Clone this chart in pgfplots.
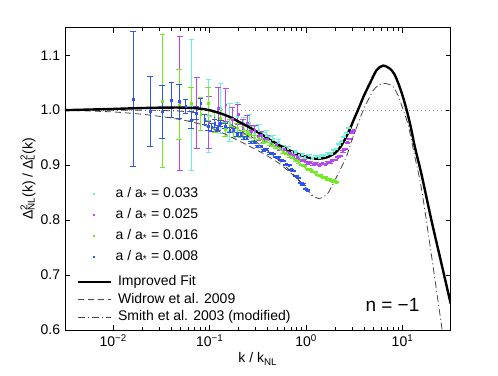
\documentclass[border=0pt]{standalone}
\usepackage{pgfplots}
\usepackage{pgfplotstable}
\pgfplotsset{compat=1.18}
\usepackage{fontspec}
\setmainfont{Liberation Sans}

\definecolor{cBlue}{RGB}{45,85,245}
\definecolor{cGreen}{RGB}{115,235,35}
\definecolor{cPurple}{RGB}{185,70,245}
\definecolor{cCyan}{RGB}{110,240,215}
\definecolor{cFit}{RGB}{70,70,70}

% simulation points: k/k_NL, ratio, error
\pgfplotstableread{
k y e
0.0646 1.010 0.119
0.0969 0.990 0.066
0.1292 1.003 0.045
0.1615 0.978 0.034
0.1938 0.989 0.025
0.2261 0.966 0.020
0.2584 0.976 0.016
0.2907 0.957 0.013
0.3230 0.964 0.011
0.3553 0.950 0.010
0.3876 0.955 0.009
0.4199 0.944 0.008
0.4522 0.947 0.007
0.4845 0.938 0.006
0.5168 0.941 0.006
0.5814 0.931 0.005
0.6460 0.930 0.004
0.7106 0.923 0.004
0.7752 0.924 0.003
0.8398 0.918 0.003
0.9044 0.919 0.003
0.9690 0.915 0.003
1.0659 0.917 0.002
1.1628 0.913 0.002
1.2597 0.916 0.002
1.3566 0.914 0.002
1.4535 0.917 0.002
1.5504 0.917 0.002
1.6796 0.921 0.002
1.8088 0.922 0.001
1.9380 0.927 0.001
2.0672 0.930 0.001
2.1964 0.938 0.001
2.3256 0.943 0.001
2.4871 0.952 0.001
2.6486 0.959 0.001
2.7778 0.968 0.001
}\tabCyan

\pgfplotstableread{
k y e
0.0490 1.012 0.122
0.0735 0.995 0.065
0.0980 0.978 0.048
0.1225 1.003 0.039
0.1470 1.010 0.030
0.1715 0.984 0.022
0.1960 0.992 0.018
0.2205 0.968 0.015
0.2450 0.977 0.013
0.2695 0.961 0.011
0.2940 0.963 0.009
0.3185 0.953 0.008
0.3430 0.954 0.007
0.3675 0.947 0.006
0.3920 0.948 0.006
0.4410 0.939 0.005
0.4900 0.938 0.004
0.5390 0.930 0.004
0.5880 0.929 0.003
0.6370 0.923 0.003
0.6860 0.922 0.003
0.7350 0.916 0.003
0.8085 0.915 0.002
0.8820 0.908 0.002
0.9555 0.908 0.002
1.0290 0.903 0.002
1.1025 0.905 0.002
1.1760 0.901 0.002
1.2740 0.903 0.002
1.3720 0.900 0.001
1.4700 0.903 0.001
1.5680 0.902 0.001
1.6660 0.905 0.001
1.7640 0.905 0.001
1.8865 0.909 0.001
2.0090 0.910 0.001
2.1315 0.915 0.001
2.2540 0.917 0.001
2.4010 0.925 0.001
2.5480 0.930 0.001
2.6950 0.941 0.001
2.8420 0.948 0.001
2.9890 0.959 0.001
3.0625 0.963 0.001
}\tabPurple

\pgfplotstableread{
k y e
0.0323 1.017 0.121
0.0484 1.010 0.064
0.0645 1.012 0.030
0.0806 0.993 0.030
0.0968 1.012 0.030
0.1129 0.978 0.018
0.1290 0.986 0.015
0.1452 0.965 0.013
0.1613 0.973 0.011
0.1774 0.961 0.010
0.1936 0.968 0.008
0.2097 0.957 0.007
0.2258 0.963 0.007
0.2420 0.957 0.006
0.2581 0.956 0.005
0.2903 0.950 0.005
0.3226 0.950 0.004
0.3549 0.944 0.004
0.3871 0.944 0.003
0.4194 0.939 0.003
0.4516 0.938 0.003
0.4839 0.933 0.003
0.5323 0.931 0.002
0.5806 0.924 0.002
0.6290 0.922 0.002
0.6774 0.916 0.002
0.7258 0.915 0.002
0.7742 0.909 0.002
0.8387 0.906 0.002
0.9032 0.900 0.001
0.9677 0.898 0.001
1.0323 0.893 0.001
1.0968 0.892 0.001
1.1613 0.888 0.001
1.2419 0.887 0.001
1.3226 0.882 0.001
1.4032 0.882 0.001
1.4839 0.878 0.001
1.5806 0.878 0.001
1.6774 0.874 0.001
1.7742 0.874 0.001
1.8710 0.871 0.001
1.9677 0.872 0.001
2.0645 0.869 0.001
}\tabGreen

\pgfplotstableread{
k y e
0.0161 1.020 0.1225
0.0242 0.998 0.063
0.0322 0.997 0.049
0.0403 1.018 0.032
0.0484 1.016 0.031
0.0564 1.007 0.012
0.0645 0.982 0.016
0.0725 0.995 0.012
0.0806 1.012 0.010
0.0887 0.984 0.009
0.0967 0.971 0.008
0.1048 0.969 0.007
0.1128 0.976 0.007
0.1209 0.967 0.006
0.1290 0.976 0.006
0.1451 0.971 0.005
0.1612 0.964 0.004
0.1773 0.963 0.004
0.1934 0.956 0.003
0.2096 0.956 0.003
0.2257 0.949 0.003
0.2418 0.950 0.003
0.2660 0.942 0.002
0.2902 0.942 0.002
0.3143 0.934 0.002
0.3385 0.934 0.002
0.3627 0.927 0.002
0.3869 0.928 0.002
0.4191 0.921 0.002
0.4514 0.921 0.001
0.4836 0.915 0.001
0.5158 0.915 0.001
0.5481 0.909 0.001
0.5803 0.908 0.001
0.6206 0.901 0.001
0.6609 0.900 0.001
0.7012 0.892 0.001
0.7415 0.890 0.001
0.7898 0.880 0.001
0.8382 0.877 0.001
0.8866 0.867 0.001
0.9349 0.865 0.001
0.9833 0.857 0.001
1.0316 0.855 0.001
}\tabBlue

\pgfplotsset{
  simpts/.style={only marks, mark=square*, mark size=0.9pt, color=#1, forget plot,
    error bars/.cd, y dir=both, y explicit,
    error bar style={line width=0.7pt, color=#1},
    error mark options={rotate=90, mark size=2.8pt, line width=0.7pt, color=#1}},
  boxlegend/.style={legend cell align=left,
    legend style={draw=none, fill=none, inner sep=0pt, outer sep=0pt,
      row sep=#1, column sep=6pt, anchor=north west,
      nodes={inner sep=0pt, text height=10pt, text depth=3pt}}},
  overlay axis/.style={at={(0pt,0pt)}, anchor=south west,
    width=385.7pt, height=302.3pt, scale only axis,
    hide axis, xmin=0, xmax=1, ymin=0, ymax=1},
}

\begin{document}
\fontsize{14}{16}\selectfont
\begin{tikzpicture}
\useasboundingbox (-65pt,-45pt) rectangle (433pt,330pt);
\begin{axis}[
  at={(0pt,0pt)}, anchor=south west,
  width=385.7pt, height=302.3pt, scale only axis,
  xmode=log, xmin=0.003162, xmax=31.62, ymin=0.6, ymax=1.15,
  xtick={0.01,0.1,1,10},
  xticklabels={10\textsuperscript{−2},10\textsuperscript{−1},10\textsuperscript{0},10\textsuperscript{1}},
  ytick={0.6,0.7,0.8,0.9,1.0,1.1},
  yticklabel style={/pgf/number format/.cd, fixed, fixed zerofill, precision=1, assume math mode=true},
  xlabel={k / k\textsubscript{NL}},
  ylabel={Δ\rlap{\textsuperscript{2}}\textsubscript{NL}(k) / Δ\rlap{\textsuperscript{2}}\textsubscript{L}(k)},
  xlabel style={at={(axis description cs:0.5,-0.109)}, anchor=base},
  ylabel style={at={(axis description cs:-0.096,0.5)}, anchor=center},
  axis line style={line width=0.7pt},
  tick style={line width=0.6pt, black},
  major tick length=5pt, minor tick length=3pt,
]
\addplot[gray!80, line width=0.6pt, dash pattern=on 1pt off 3pt, forget plot]
  coordinates {(0.003162,1) (31.62,1)};

\addplot[simpts=cCyan] table[x=k, y=y, y error=e] {\tabCyan};
\addplot[simpts=cPurple] table[x=k, y=y, y error=e] {\tabPurple};
\addplot[simpts=cGreen] table[x=k, y=y, y error=e] {\tabGreen};
\addplot[simpts=cBlue] table[x=k, y=y, y error=e] {\tabBlue};

% Widrow et al. 2009
\addplot[cFit, line width=0.8pt, dash pattern=on 6pt off 4pt, smooth, forget plot] coordinates {
(0.003162,1.000) (0.0093,0.997) (0.016,0.994) (0.024,0.991) (0.039,0.986)
(0.06,0.980) (0.086,0.973) (0.12,0.963) (0.163,0.952) (0.242,0.937)
(0.36,0.921) (0.45,0.911) (0.536,0.902) (0.68,0.887) (0.85,0.871)
(1.01,0.856) (1.15,0.844)};
% Smith et al. 2003 (modified)
\addplot[cFit, line width=0.8pt, dash pattern=on 7pt off 3pt on 1pt off 3pt, smooth, forget plot] coordinates {
(0.003162,1.000) (0.01,1.000) (0.03,0.9995) (0.06,0.997) (0.1,0.990)
(0.15,0.978) (0.22,0.960) (0.3,0.943) (0.4,0.926) (0.536,0.907)
(0.7,0.888) (0.85,0.872) (1.02,0.857) (1.17,0.845) (1.34,0.8394)
(1.5,0.8415) (1.7,0.850) (1.92,0.867) (2.25,0.891) (2.64,0.917)
(2.97,0.944) (3.45,0.975) (3.92,1.000) (4.45,1.020) (4.98,1.036)
(5.6,1.045) (6.3,1.0485) (7.1,1.0475) (8.0,1.0424) (9.0,1.027)
(10.2,1.000) (11.5,0.972) (13.25,0.920) (15.8,0.855) (20.2,0.730)
(25.5,0.606) (27.6,0.565)};
% Improved fit
\addplot[black, line width=2.4pt, smooth, forget plot] coordinates {
(0.003162,1.000) (0.006,1.0012) (0.01,1.0022) (0.017,1.0035) (0.03,1.0045)
(0.05,1.0047) (0.07,1.0037) (0.09,1.0015) (0.11,0.998) (0.135,0.993)
(0.165,0.987) (0.2,0.979) (0.245,0.971) (0.3,0.962) (0.36,0.954)
(0.44,0.944) (0.53,0.936) (0.65,0.928) (0.8,0.921) (1.0,0.915)
(1.2,0.912) (1.45,0.912) (1.7,0.915) (2.0,0.922) (2.25,0.932)
(2.55,0.948) (2.85,0.966) (3.15,0.984) (3.45,1.000) (4.0,1.027)
(4.6,1.049) (5.4,1.073) (6.3,1.081) (7.4,1.0755) (8.2,1.066)
(9.0,1.050) (10.0,1.027) (11.05,1.000) (12.2,0.969) (13.4,0.934)
(15.8,0.882) (20,0.799) (25,0.7256) (31.62,0.648)};

\node[anchor=base, font=\fontsize{19}{22}\selectfont] at (axis cs:7.87,0.6333) {n = −1};
\end{axis}

% legend of the simulation outputs: a small dot in a 33pt wide cell
\begin{axis}[overlay axis, boxlegend=8.2pt,
  legend style={at={(axis description cs:0.0303,0.473)}},
  legend image code/.code={%
    \path[draw=none, fill=none] (0pt,-1pt) rectangle (33pt,1pt);
    \path[draw=none, #1] (16.6pt,-1pt) rectangle (18.6pt,1pt);}]
\addlegendimage{fill=cCyan}
\addlegendentry{a / a\textsubscript{*} = 0.033}
\addlegendimage{fill=cPurple}
\addlegendentry{a / a\textsubscript{*} = 0.025}
\addlegendimage{fill=cGreen}
\addlegendentry{a / a\textsubscript{*} = 0.016}
\addlegendimage{fill=cBlue}
\addlegendentry{a / a\textsubscript{*} = 0.008}
\end{axis}

% legend of the fits
\begin{axis}[overlay axis, boxlegend=4.4pt,
  legend style={at={(axis description cs:0.0303,0.1796)}},
  legend image code/.code={\draw[#1] (0pt,0pt) -- (33pt,0pt);}]
\addlegendimage{black, line width=2.4pt}
\addlegendentry{Improved Fit}
\addlegendimage{cFit, line width=0.8pt, dash pattern=on 6pt off 4pt}
\addlegendentry{Widrow et al. 2009}
\addlegendimage{cFit, line width=0.8pt, dash pattern=on 7pt off 3pt on 1pt off 3pt}
\addlegendentry{Smith et al. 2003 (modified)}
\end{axis}
\end{tikzpicture}
\end{document}
